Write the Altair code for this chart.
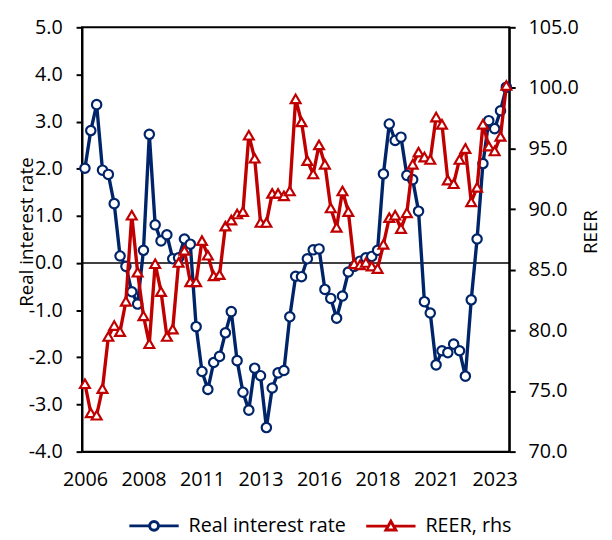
import altair as alt
import pandas as pd

# ---------------- data ----------------
quarters = [f"{y}Q{q}" for y in range(2006, 2025) for q in range(1, 5)][:73]  # 2006Q1 .. 2024Q1
axis_quarters = ["2006Q1", "2008Q3", "2011Q1", "2013Q3", "2016Q1", "2018Q3", "2021Q1", "2023Q3"]

real_rate = [
    2.01, 2.81, 3.36, 1.97, 1.88, 1.26, 0.15, -0.07, -0.61, -0.87,
    0.27, 2.73, 0.81, 0.47, 0.60, 0.09, 0.11, 0.51, 0.40, -1.35,
    -2.30, -2.68, -2.11, -1.98, -1.48, -1.03, -2.07, -2.74, -3.12, -2.23,
    -2.39, -3.49, -2.65, -2.33, -2.28, -1.14, -0.28, -0.29, 0.09, 0.28,
    0.30, -0.56, -0.75, -1.17, -0.70, -0.19, -0.07, 0.04, 0.11, 0.14,
    0.27, 1.89, 2.95, 2.60, 2.67, 1.86, 1.77, 1.10, -0.82, -1.06,
    -2.16, -1.86, -1.90, -1.72, -1.86, -2.40, -0.78, 0.51, 2.11, 3.02,
    2.85, 3.23, 3.73,
]

reer = [
    75.6, 73.2, 73.0, 75.2, 79.5, 80.4, 79.9, 82.4, 89.5, 84.8,
    81.2, 78.9, 85.5, 83.2, 79.5, 80.1, 85.6, 86.6, 84.0, 84.0,
    87.4, 86.2, 84.5, 84.6, 88.6, 89.1, 89.6, 89.8, 96.1, 94.2,
    88.9, 88.9, 91.3, 91.3, 91.1, 91.5, 99.1, 97.2, 94.0, 92.9,
    95.3, 93.7, 90.1, 88.5, 91.5, 89.8, 85.5, 85.4, 85.6, 85.3,
    85.1, 87.1, 89.3, 89.5, 88.4, 89.7, 93.7, 94.7, 94.3, 94.1,
    97.6, 97.0, 92.4, 92.1, 94.1, 95.0, 90.6, 91.8, 97.0, 95.2,
    94.8, 96.0, 100.2,
]

series_names = ["Real interest rate", "REER, rhs"]

df = pd.DataFrame({"q": quarters, "rate": real_rate, "reer": reer})
zero_df = pd.DataFrame({"z": [0.0]})
legend_df = pd.DataFrame({"s": series_names})

# ---------------- style ----------------
NAVY = "#002469"
RED = "#C00000"
FONT = "Open Sans"
FS = 20

left_scale = alt.Scale(domain=[-4, 5], nice=False, zero=False)
right_scale = alt.Scale(domain=[70, 105], nice=False, zero=False)
color_scale = alt.Scale(domain=series_names, range=[NAVY, RED])

# legend symbols: line segment with the series marker in its middle
CIRC = "M-1,0 L3.1,0 M4.9,0 L9,0 M3.1,0 A0.9,0.9 0 1,0 4.9,0 A0.9,0.9 0 1,0 3.1,0 Z"
TRI = "M-1,0 L3.45,0 M4.55,0 L9,0 M4,-1 L5,0.8 L3,0.8 Z"
shape_scale = alt.Scale(domain=series_names, range=[CIRC, TRI])

x_enc = alt.X(
    "q:O",
    sort=quarters,
    scale=alt.Scale(type="point", padding=0.5),
    axis=alt.Axis(
        values=axis_quarters,
        labelExpr="slice(datum.value, 0, 4)",
        title=None,
        ticks=False,
        tickSize=0,
        labelAngle=0,
        labelPadding=18,
        domain=True,
    ),
)

left_axis = alt.Axis(
    values=[-4, -3, -2, -1, 0, 1, 2, 3, 4, 5],
    labelExpr="datum.value < 0 ? '-' + format(-datum.value, '.1f') : format(datum.value, '.1f')",
    title="Real interest rate",
    titleFontSize=19,
    titleX=-50,
    titleY=207,
    titleAngle=270,
    titleBaseline="alphabetic",
    grid=False,
    tickSize=6,
    labelPadding=14,
)
right_axis = alt.Axis(
    orient="right",
    values=[70, 75, 80, 85, 90, 95, 100, 105],
    format=".1f",
    title="REER",
    titleFontSize=19,
    titleAngle=270,
    titleX=73,
    titleY=207,
    titleBaseline="top",
    grid=False,
    tickSize=6,
    labelPadding=13,
)

legend = alt.Legend(
    title=None,
    orient="none",
    legendX=43,
    legendY=495,
    direction="horizontal",
    symbolSize=100,
    symbolStrokeWidth=3,
    symbolOpacity=1,
    symbolFillColor="white",
    labelFont=FONT,
    labelFontSize=FS,
    labelColor="black",
    labelOffset=45,
    columnPadding=14,
)

base = alt.Chart(df)

zero_rule = alt.Chart(zero_df).mark_rule(color="black", strokeWidth=1.6).encode(
    y=alt.Y("z:Q", scale=left_scale, axis=left_axis)
)

navy_line = base.mark_line(strokeWidth=3.4, color=NAVY).encode(
    x=x_enc,
    y=alt.Y("rate:Q", scale=left_scale, axis=left_axis),
)

navy_pts = base.mark_point(
    shape="circle", filled=True, fill="white", stroke=NAVY, strokeWidth=2.2, size=90, opacity=1
).encode(
    x=x_enc,
    y=alt.Y("rate:Q", scale=left_scale, axis=left_axis),
)

red_line = base.mark_line(strokeWidth=3.4, color=RED).encode(
    x=x_enc,
    y=alt.Y("reer:Q", scale=right_scale, axis=right_axis),
)

red_pts = base.mark_point(
    shape="triangle-up", filled=True, fill="white", stroke=RED, strokeWidth=2.2, size=100, opacity=1
).encode(
    x=x_enc,
    y=alt.Y("reer:Q", scale=right_scale, axis=right_axis),
)

# invisible layer that only feeds the legend
legend_layer = alt.Chart(legend_df).mark_point(
    filled=True, fill="white", opacity=0, strokeWidth=3
).encode(
    x=alt.value(0),
    y=alt.value(0),
    stroke=alt.Stroke("s:N", scale=color_scale, legend=legend),
    shape=alt.Shape("s:N", scale=shape_scale, legend=legend),
)

left_layer = alt.layer(zero_rule, navy_line, navy_pts)
right_layer = alt.layer(red_line, red_pts)

chart = (
    alt.layer(left_layer, right_layer, legend_layer)
    .resolve_scale(y="independent")
    .properties(
        width=433,
        height=430,
        autosize=alt.AutoSizeParams(type="none"),
        padding={"left": 75, "top": 16, "right": 96, "bottom": 86},
    )
    .configure(background="white")
    .configure_view(stroke="black", strokeWidth=2)
    .configure_axis(
        labelFont=FONT,
        labelFontSize=FS,
        labelColor="black",
        titleFont=FONT,
        titleFontWeight="normal",
        titleColor="black",
        domainColor="black",
        domainWidth=2,
        tickColor="black",
        tickWidth=2,
    )
)

chart.save("out.html", embed_options={"renderer": "svg", "actions": False})
